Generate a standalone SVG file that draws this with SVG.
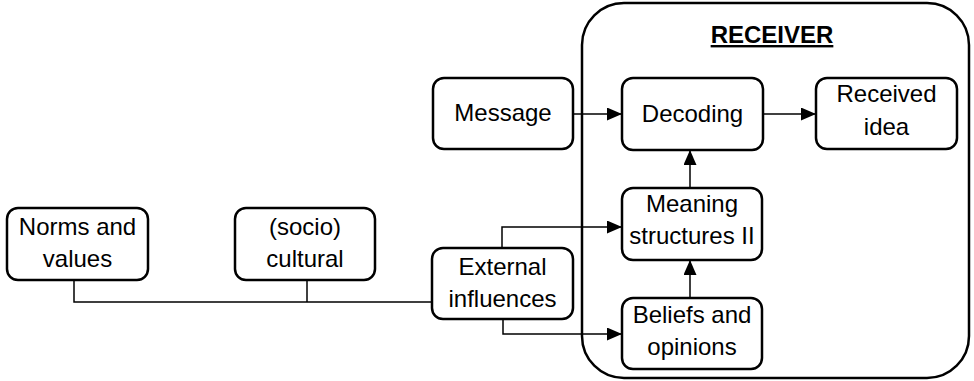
<svg xmlns="http://www.w3.org/2000/svg" width="974" height="381" viewBox="0 0 974 381">
<style>
.box{fill:#fff;stroke:#000;stroke-width:2.5}
.t{font-family:"Liberation Sans",Arial,sans-serif;font-size:24px;fill:#000;text-anchor:middle}
.c{fill:none;stroke:#000;stroke-width:1.5}
</style>
<defs>
<marker id="ah" viewBox="0 0 15 13" refX="15" refY="6.5" markerWidth="15" markerHeight="13" markerUnits="userSpaceOnUse" orient="auto">
<path d="M0,0 L15,6.5 L0,13 Z" fill="#000"/>
</marker>
</defs>
<g id="receiver">
<rect x="582" y="3" width="387" height="375" rx="42" ry="42" fill="#fff" stroke="#000" stroke-width="2.5"/>
<text x="772" y="43" font-family="'Liberation Sans',Arial,sans-serif" font-size="24" font-weight="bold" text-anchor="middle" text-decoration="underline">RECEIVER</text>
</g>
<g id="connectors">
<path class="c" d="M74,280 V302 H432"/>
<path class="c" d="M307,280 V302"/>
<path class="c" d="M573,114 H622" marker-end="url(#ah)"/>
<path class="c" d="M763,114 H816" marker-end="url(#ah)"/>
<path class="c" d="M690,188 V150" marker-end="url(#ah)"/>
<path class="c" d="M690,298 V260" marker-end="url(#ah)"/>
<path class="c" d="M502,248 V227 H622" marker-end="url(#ah)"/>
<path class="c" d="M503,319 V334 H622" marker-end="url(#ah)"/>
</g>
<g id="norms">
<rect class="box" x="7" y="208" width="141" height="72" rx="11"/>
<text class="t" x="77.5" y="235">Norms and</text>
<text class="t" x="77.5" y="267">values</text>
</g>
<g id="socio">
<rect class="box" x="235" y="208" width="140" height="72" rx="11"/>
<text class="t" x="305" y="235">(socio)</text>
<text class="t" x="305" y="267">cultural</text>
</g>
<g id="external">
<rect class="box" x="432" y="248" width="141" height="71" rx="11"/>
<text class="t" x="502.5" y="275">External</text>
<text class="t" x="502.5" y="307">influences</text>
</g>
<g id="message">
<rect class="box" x="433" y="78" width="140" height="71" rx="11"/>
<text class="t" x="503" y="121">Message</text>
</g>
<g id="decoding">
<rect class="box" x="622" y="78" width="141" height="72" rx="11"/>
<text class="t" x="692.5" y="122">Decoding</text>
</g>
<g id="received">
<rect class="box" x="816" y="78" width="141" height="71" rx="11"/>
<text class="t" x="886.5" y="102">Received</text>
<text class="t" x="886.5" y="135">idea</text>
</g>
<g id="meaning">
<rect class="box" x="622" y="188" width="140" height="72" rx="11"/>
<text class="t" x="692" y="212">Meaning</text>
<text class="t" x="692" y="244">structures II</text>
</g>
<g id="beliefs">
<rect class="box" x="622" y="298" width="140" height="71" rx="11"/>
<text class="t" x="692" y="323">Beliefs and</text>
<text class="t" x="692" y="355">opinions</text>
</g>
</svg>
